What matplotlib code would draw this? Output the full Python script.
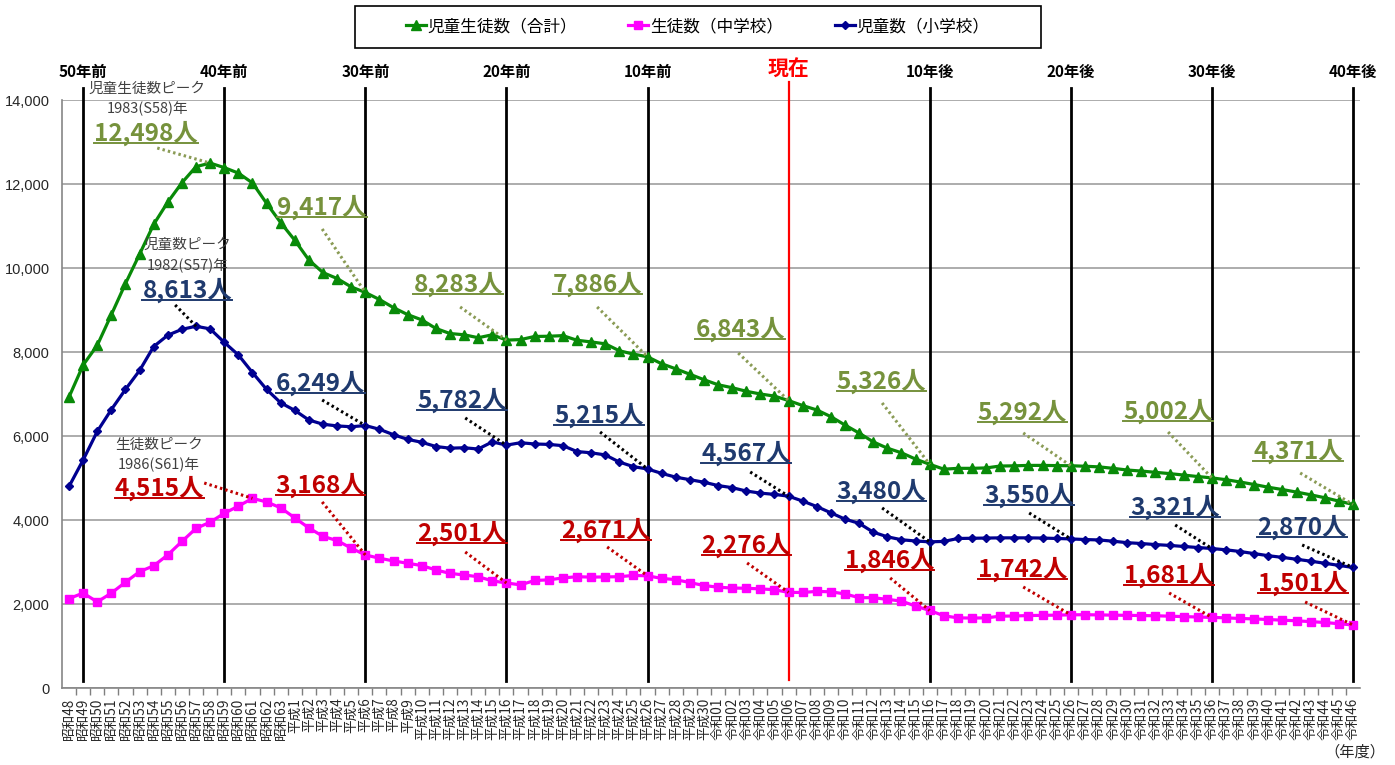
import matplotlib
matplotlib.use('Agg')
import matplotlib.pyplot as plt
from matplotlib.lines import Line2D
from matplotlib.patches import Rectangle
import matplotlib.transforms as mtransforms

plt.rcParams['font.family'] = ['Noto Sans CJK JP', 'DejaVu Sans']

# ---------------- data ----------------
year_labels = ([f"昭和{n}" for n in range(48, 64)] +
               [f"平成{n}" for n in range(1, 31)] +
               [f"令和{n:02d}" for n in range(1, 47)])

primary = [4800, 5430, 6110, 6630, 7110, 7560, 8130, 8400, 8540, 8613,
           8550, 8230, 7930, 7510, 7110, 6790, 6610, 6380, 6280, 6240,
           6220, 6249, 6160, 6030, 5920, 5850, 5750, 5710, 5720, 5690,
           5860, 5782, 5840, 5810, 5800, 5770, 5630, 5600, 5550, 5380,
           5270, 5215, 5110, 5020, 4960, 4900, 4820, 4770, 4690, 4640,
           4610, 4567, 4450, 4320, 4170, 4020, 3920, 3710, 3600, 3530,
           3500, 3480, 3490, 3560, 3565, 3570, 3575, 3575, 3575, 3570,
           3560, 3550, 3535, 3525, 3495, 3460, 3440, 3415, 3395, 3370,
           3345, 3321, 3290, 3250, 3200, 3150, 3110, 3065, 3020, 2970,
           2920, 2870]

middle = [2130, 2260, 2050, 2260, 2520, 2770, 2910, 3170, 3490, 3800,
          3948, 4160, 4330, 4515, 4430, 4290, 4050, 3810, 3610, 3510,
          3330, 3168, 3090, 3025, 2970, 2915, 2810, 2730, 2690, 2650,
          2550, 2501, 2455, 2560, 2575, 2620, 2650, 2640, 2645, 2650,
          2680, 2671, 2610, 2580, 2510, 2440, 2400, 2380, 2375, 2360,
          2340, 2276, 2275, 2300, 2290, 2240, 2150, 2150, 2110, 2070,
          1950, 1846, 1720, 1670, 1665, 1670, 1710, 1715, 1725, 1730,
          1735, 1742, 1745, 1740, 1735, 1730, 1725, 1720, 1710, 1700,
          1690, 1681, 1670, 1655, 1645, 1630, 1615, 1600, 1580, 1560,
          1530, 1501]

total = [6930, 7690, 8160, 8890, 9630, 10330, 11040, 11570, 12030, 12413,
         12498, 12390, 12260, 12025, 11540, 11080, 10660, 10190, 9890, 9750,
         9550, 9417, 9250, 9055, 8890, 8765, 8560, 8440, 8410, 8340,
         8410, 8283, 8295, 8370, 8375, 8390, 8280, 8240, 8195, 8030,
         7950, 7886, 7720, 7600, 7470, 7340, 7220, 7150, 7065, 7000,
         6950, 6843, 6725, 6620, 6460, 6260, 6070, 5860, 5710, 5600,
         5450, 5326, 5210, 5230, 5230, 5240, 5285, 5290, 5300, 5300,
         5295, 5292, 5280, 5265, 5230, 5190, 5165, 5135, 5105, 5070,
         5035, 5002, 4960, 4905, 4845, 4780, 4725, 4665, 4600, 4530,
         4450, 4371]

series_names = ["児童生徒数（合計）", "生徒数（中学校）", "児童数（小学校）"]

decade_idx = [1, 11, 21, 31, 41, 61, 71, 81, 91]
decade_text = ["50年前", "40年前", "30年前", "20年前", "10年前",
               "10年後", "20年後", "30年後", "40年後"]
now_idx = 51
now_text = "現在"

# annotation layout: (index, text_x, text_y, leader_x, leader_y)
ann_total = [(10, 5.47, 13214, 6.25, 12857), (21, 17.94, 11453, 17.94, 10929),
             (31, 27.58, 9619, 27.72, 9072), (41, 37.47, 9619, 37.43, 9072),
             (51, 47.57, 8548, 47.43, 7976), (61, 57.58, 7310, 57.63, 6786),
             (71, 67.56, 6572, 67.63, 6072), (81, 77.9, 6595, 77.9, 6095),
             (91, 87.12, 5643, 87.26, 5119)]
ann_primary = [(9, 8.38, 9476, 7.52, 9119), (21, 17.81, 7262, 17.94, 6857),
               (31, 27.86, 6857, 28.08, 6429), (41, 37.57, 6500, 37.64, 6095),
               (51, 47.99, 5595, 48.28, 5143), (61, 57.58, 4691, 57.63, 4286),
               (71, 68.05, 4595, 68.05, 4167), (81, 78.4, 4310, 78.4, 3881),
               (91, 87.4, 3833, 87.4, 3405)]
ann_middle = [(13, 6.39, 4762, 9.58, 4881), (21, 17.81, 4833, 17.94, 4429),
              (31, 27.86, 3691, 28.08, 3238), (41, 38.07, 3762, 38.14, 3357),
              (51, 47.99, 3405, 48.06, 2976), (61, 58.13, 3048, 58.2, 2619),
              (71, 67.56, 2833, 67.63, 2405), (81, 77.97, 2690, 77.97, 2262),
              (91, 87.47, 2500, 87.61, 2048)]

peak_captions = [(5.54, 14262, "児童生徒数ピーク"), (5.54, 13786, "1983(S58)年"),
                 (8.38, 10548, "児童数ピーク"), (8.38, 10048, "1982(S57)年"),
                 (6.39, 5786, "生徒数ピーク"), (6.39, 5310, "1986(S61)年")]

# ---------------- figure ----------------
fig = plt.figure(figsize=(13.95, 7.65), dpi=100)
ax = fig.add_axes([62 / 1395, 1 - 688 / 765, (1360 - 62) / 1395, 588 / 765])

x = list(range(len(year_labels)))
c_total, c_mid, c_pri = '#088A08', '#FF00FF', '#000090'
ax.plot(x, total, color=c_total, lw=2.3, marker='^', ms=7.5, zorder=4)
ax.plot(x, middle, color=c_mid, lw=2.3, marker='s', ms=5.5, zorder=4)
ax.plot(x, primary, color=c_pri, lw=2.3, marker='D', ms=4.5, zorder=4)

ax.set_xlim(-0.5, len(x) - 0.5)
ax.set_ylim(0, 14000)
ax.set_yticks(range(0, 14001, 2000))
ax.set_yticklabels([f"{v:,}" for v in range(0, 14001, 2000)],
                   fontfamily='Liberation Sans', fontsize=10.5, color='#262626')
ax.tick_params(axis='y', length=0, pad=9)
ax.set_xticks(x)
ax.set_xticklabels(year_labels, rotation=90, fontsize=9.8, color='#262626')
ax.set_xticks([i + 0.5 for i in x[:-1]], minor=True)
ax.tick_params(axis='x', which='major', length=0, pad=7)
ax.tick_params(axis='x', which='minor', length=5, color='#7F7F7F', width=1)
ax.yaxis.grid(True, color='#A6A6A6', lw=1.3)
ax.set_axisbelow(True)
for s in ['top', 'right']:
    ax.spines[s].set_visible(False)
for s in ['left', 'bottom']:
    ax.spines[s].set_color('#868686')
    ax.spines[s].set_linewidth(1.2)

trans = mtransforms.blended_transform_factory(ax.transData, ax.transAxes)
for i, t in zip(decade_idx, decade_text):
    ax.plot([i, i], [0.012, 1.02], transform=trans, clip_on=False,
            color='black', lw=2, zorder=2)
    ax.text(i, 1.047, t, transform=trans, ha='center', va='center',
            fontsize=11, fontweight='bold', color='black')
ax.plot([now_idx, now_idx], [0.014, 1.03], transform=trans, clip_on=False,
        color='#FF0000', lw=1.6, zorder=2)
ax.text(now_idx, 1.053, now_text, transform=trans, ha='center', va='center',
        fontsize=15, fontweight='bold', color='#FF0000')

# annotations
texts = []
groups = [(ann_total, total, '#76923C', '#8A9B55'),
          (ann_primary, primary, '#1F3A6E', '#000000'),
          (ann_middle, middle, '#C00000', '#C00000')]
for anns, vals, tcol, lcol in groups:
    for idx, tx, ty, lx, ly in anns:
        t = ax.text(tx, ty, f"{vals[idx]:,}人", ha='center', va='center',
                    fontsize=17.5, fontweight='bold', color=tcol, zorder=6)
        texts.append((t, tcol))
        ax.plot([lx, idx], [ly, vals[idx]], color=lcol, lw=2.2,
                linestyle=(0, (0.8, 1.0)), zorder=5, clip_on=False)

for cx, cy, s in peak_captions:
    ax.text(cx, cy, s, ha='center', va='center', fontsize=10.5,
            color='#404040', zorder=6)

# legend
handles = [Line2D([], [], color=c_total, lw=2.3, marker='^', ms=7.5),
           Line2D([], [], color=c_mid, lw=2.3, marker='s', ms=5.5),
           Line2D([], [], color=c_pri, lw=2.3, marker='D', ms=4.5)]
fig.legend(handles, series_names, loc='center', bbox_to_anchor=(0.5, 0.965),
           ncol=3, frameon=False, fontsize=12, handlelength=1.2,
           handletextpad=0.1, columnspacing=3.1)
fig.add_artist(Rectangle((355 / 1395, 1 - 48 / 765), 686 / 1395, 42 / 765,
                         transform=fig.transFigure, fill=False,
                         edgecolor='black', lw=1.2))

fig.text(1355 / 1395, 1 - 752 / 765, "（年度）", ha='center', va='center',
         fontsize=11, color='#262626')

# underlines
fig.canvas.draw()
renderer = fig.canvas.get_renderer()
inv = fig.transFigure.inverted()
for t, col in texts:
    bb = t.get_window_extent(renderer)
    (x0, y0), (x1, y1) = inv.transform([[bb.x0, bb.y0 + 3], [bb.x1, bb.y1]])
    fig.add_artist(Line2D([x0, x1], [y0, y0], transform=fig.transFigure,
                          color=col, lw=1.4, zorder=7))

fig.savefig('out.png', dpi=100)
